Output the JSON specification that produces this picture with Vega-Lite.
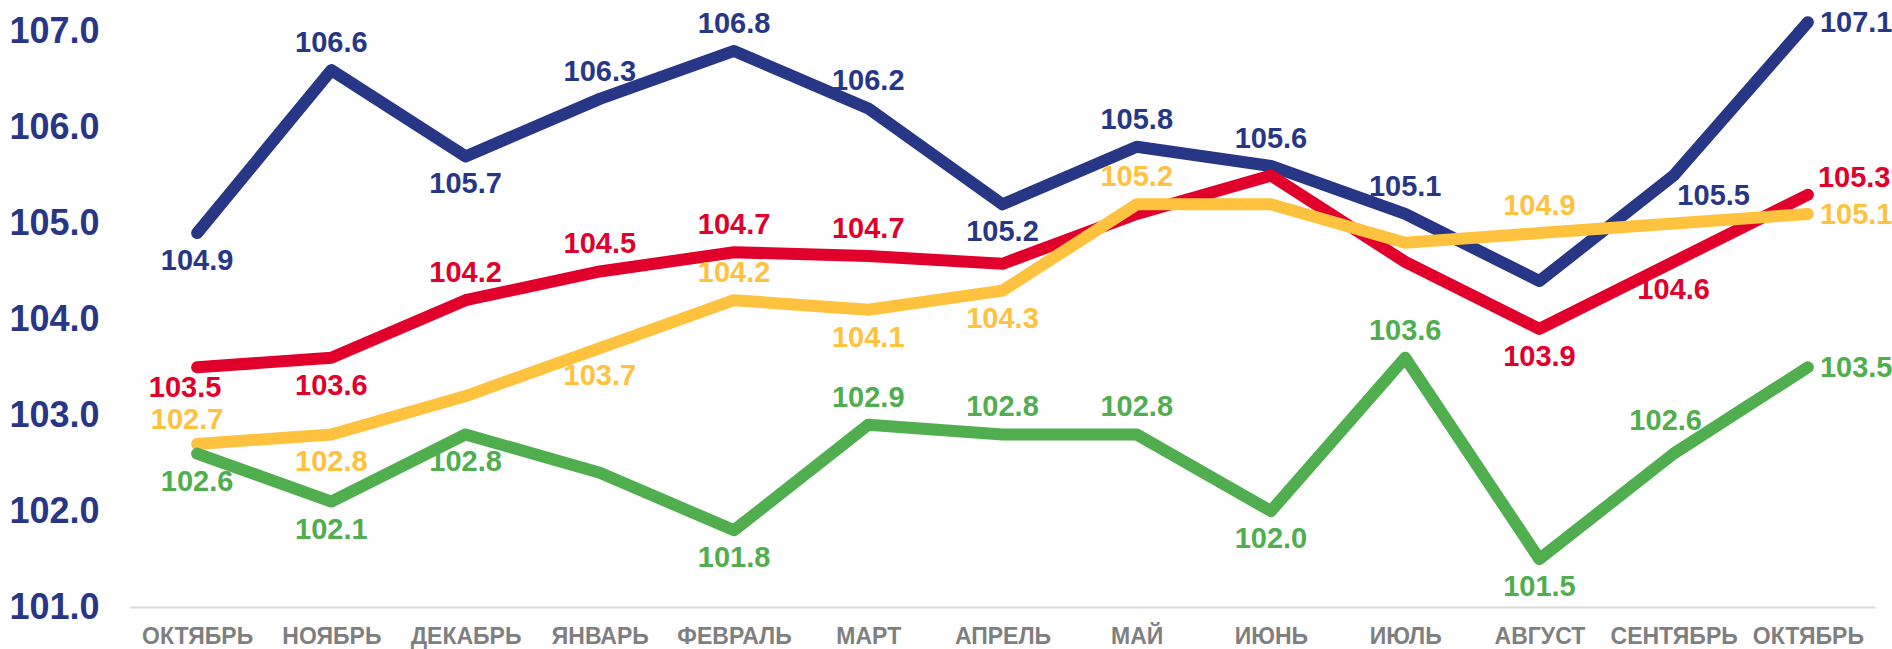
{
  "$schema": "https://vega.github.io/schema/vega-lite/v6.json",
  "width": 1745,
  "height": 604,
  "autosize": {"type": "none"},
  "padding": {"left": 130, "top": 3, "right": 17, "bottom": 42},
  "background": "white",
  "config": {"view": {"stroke": null}, "font": "Liberation Sans"},
  "data": {
    "values": [
      {"s": "s1", "i": 0, "v": 104.9}, {"s": "s1", "i": 1, "v": 106.6}, {"s": "s1", "i": 2, "v": 105.7}, {"s": "s1", "i": 3, "v": 106.3}, {"s": "s1", "i": 4, "v": 106.8}, {"s": "s1", "i": 5, "v": 106.2}, {"s": "s1", "i": 6, "v": 105.2}, {"s": "s1", "i": 7, "v": 105.8}, {"s": "s1", "i": 8, "v": 105.6}, {"s": "s1", "i": 9, "v": 105.1}, {"s": "s1", "i": 10, "v": 104.4}, {"s": "s1", "i": 11, "v": 105.5}, {"s": "s1", "i": 12, "v": 107.1},
      {"s": "s2", "i": 0, "v": 103.5}, {"s": "s2", "i": 1, "v": 103.6}, {"s": "s2", "i": 2, "v": 104.2}, {"s": "s2", "i": 3, "v": 104.5}, {"s": "s2", "i": 4, "v": 104.7}, {"s": "s2", "i": 5, "v": 104.66}, {"s": "s2", "i": 6, "v": 104.58}, {"s": "s2", "i": 7, "v": 105.1}, {"s": "s2", "i": 8, "v": 105.5}, {"s": "s2", "i": 9, "v": 104.6}, {"s": "s2", "i": 10, "v": 103.9}, {"s": "s2", "i": 11, "v": 104.6}, {"s": "s2", "i": 12, "v": 105.3},
      {"s": "s3", "i": 0, "v": 102.7}, {"s": "s3", "i": 1, "v": 102.8}, {"s": "s3", "i": 2, "v": 103.2}, {"s": "s3", "i": 3, "v": 103.7}, {"s": "s3", "i": 4, "v": 104.2}, {"s": "s3", "i": 5, "v": 104.1}, {"s": "s3", "i": 6, "v": 104.3}, {"s": "s3", "i": 7, "v": 105.2}, {"s": "s3", "i": 8, "v": 105.2}, {"s": "s3", "i": 9, "v": 104.8}, {"s": "s3", "i": 10, "v": 104.9}, {"s": "s3", "i": 11, "v": 105.0}, {"s": "s3", "i": 12, "v": 105.1},
      {"s": "s4", "i": 0, "v": 102.6}, {"s": "s4", "i": 1, "v": 102.1}, {"s": "s4", "i": 2, "v": 102.8}, {"s": "s4", "i": 3, "v": 102.4}, {"s": "s4", "i": 4, "v": 101.8}, {"s": "s4", "i": 5, "v": 102.9}, {"s": "s4", "i": 6, "v": 102.8}, {"s": "s4", "i": 7, "v": 102.8}, {"s": "s4", "i": 8, "v": 102.0}, {"s": "s4", "i": 9, "v": 103.6}, {"s": "s4", "i": 10, "v": 101.5}, {"s": "s4", "i": 11, "v": 102.6}, {"s": "s4", "i": 12, "v": 103.5}
    ]
  },
  "encoding": {
    "x": {
      "field": "i",
      "type": "ordinal",
      "scale": {"type": "point", "padding": 0.5},
      "axis": {
        "title": null,
        "labelExpr": "['ОКТЯБРЬ','НОЯБРЬ','ДЕКАБРЬ','ЯНВАРЬ','ФЕВРАЛЬ','МАРТ','АПРЕЛЬ','МАЙ','ИЮНЬ','ИЮЛЬ','АВГУСТ','СЕНТЯБРЬ','ОКТЯБРЬ'][datum.value]",
        "labelAngle": 0,
        "labelOverlap": false,
        "ticks": false,
        "tickSize": 0,
        "grid": false,
        "domainColor": "#D9D9D9",
        "domainWidth": 2,
        "labelFont": "Liberation Sans",
        "labelFontWeight": "bold",
        "labelFontSize": 23,
        "labelColor": "#7F7F7F",
        "labelPadding": 18,
        "labelBaseline": "top"
      }
    },
    "y": {
      "field": "v",
      "type": "quantitative",
      "scale": {"domain": [101, 107.3], "zero": false, "nice": false},
      "axis": {
        "title": null,
        "values": [101, 102, 103, 104, 105, 106, 107],
        "format": ".1f",
        "domain": false,
        "ticks": false,
        "tickSize": 0,
        "grid": false,
        "labelFont": "Liberation Sans",
        "labelFontSize": 36,
        "labelFontWeight": "bold",
        "labelColor": "#283785",
        "labelPadding": 31
      }
    },
    "color": {
      "field": "s",
      "type": "nominal",
      "scale": {"domain": ["s1", "s2", "s3", "s4"], "range": ["#283785", "#E1002B", "#FFC23F", "#50AE4F"]},
      "legend": null
    }
  },
  "layer": [
    {
      "mark": {"type": "line", "strokeWidth": 12, "strokeCap": "round", "strokeJoin": "round"},
      "encoding": {}
    },
    {
      "transform": [{"filter": "indexof(['s1-1','s1-3','s1-4','s1-5','s1-7','s1-8','s1-9','s2-2','s2-3','s2-4','s2-5','s3-4','s3-7','s3-10','s4-5','s4-6','s4-7','s4-9'], datum.s + '-' + datum.i) >= 0"}],
      "mark": {"type": "text", "font": "Liberation Sans", "fontSize": 29, "fontWeight": "bold", "baseline": "middle", "dy": -27},
      "encoding": {"text": {"field": "v", "type": "quantitative", "format": ".1f"}}
    },
    {
      "transform": [{"filter": "indexof(['s3-0'], datum.s + '-' + datum.i) >= 0"}],
      "mark": {"type": "text", "font": "Liberation Sans", "fontSize": 29, "fontWeight": "bold", "baseline": "middle", "dx": -10, "dy": -24},
      "encoding": {"text": {"field": "v", "type": "quantitative", "format": ".1f"}}
    },
    {
      "transform": [{"filter": "indexof(['s4-11'], datum.s + '-' + datum.i) >= 0"}],
      "mark": {"type": "text", "font": "Liberation Sans", "fontSize": 29, "fontWeight": "bold", "baseline": "middle", "dx": -8, "dy": -33},
      "encoding": {"text": {"field": "v", "type": "quantitative", "format": ".1f"}}
    },
    {
      "transform": [{"filter": "indexof(['s1-0','s1-2','s1-6','s2-1','s2-10','s2-11','s3-1','s3-3','s3-5','s3-6','s4-0','s4-1','s4-2','s4-4','s4-8','s4-10'], datum.s + '-' + datum.i) >= 0"}],
      "mark": {"type": "text", "font": "Liberation Sans", "fontSize": 29, "fontWeight": "bold", "baseline": "middle", "dy": 28},
      "encoding": {"text": {"field": "v", "type": "quantitative", "format": ".1f"}}
    },
    {
      "transform": [{"filter": "indexof(['s2-0'], datum.s + '-' + datum.i) >= 0"}],
      "mark": {"type": "text", "font": "Liberation Sans", "fontSize": 29, "fontWeight": "bold", "baseline": "middle", "dx": -12, "dy": 21},
      "encoding": {"text": {"field": "v", "type": "quantitative", "format": ".1f"}}
    },
    {
      "transform": [{"filter": "indexof(['s1-12','s3-12','s4-12'], datum.s + '-' + datum.i) >= 0"}],
      "mark": {"type": "text", "font": "Liberation Sans", "fontSize": 29, "fontWeight": "bold", "baseline": "middle", "align": "left", "dx": 12, "dy": 1},
      "encoding": {"text": {"field": "v", "type": "quantitative", "format": ".1f"}}
    },
    {
      "transform": [{"filter": "datum.s == 's2' && datum.i == 12"}],
      "mark": {"type": "text", "font": "Liberation Sans", "fontSize": 29, "fontWeight": "bold", "baseline": "middle", "align": "left", "dx": 10, "dy": -17},
      "encoding": {"text": {"field": "v", "type": "quantitative", "format": ".1f"}}
    },
    {
      "transform": [{"filter": "datum.s == 's1' && datum.i == 11"}],
      "mark": {"type": "text", "font": "Liberation Sans", "fontSize": 29, "fontWeight": "bold", "baseline": "middle", "dx": 40, "dy": 20},
      "encoding": {"text": {"field": "v", "type": "quantitative", "format": ".1f"}}
    }
  ]
}
